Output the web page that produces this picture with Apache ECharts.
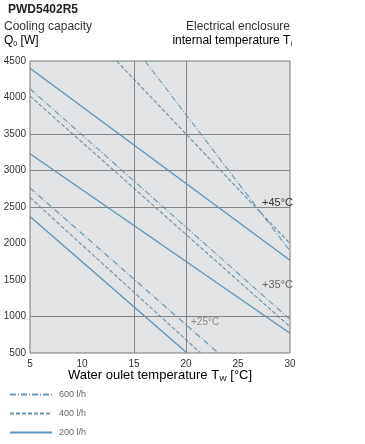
<!DOCTYPE html>
<html><head><meta charset="utf-8">
<script src="https://cdn.jsdelivr.net/npm/echarts@6/dist/echarts.min.js"></script>
<style>html,body{margin:0;padding:0;background:#fff}#c{width:365px;height:444px}</style>
</head><body><div id="c"></div>
<script>
const xTicks = [5, 10, 15, 20, 25, 30];
const yTicks = [500, 1000, 1500, 2000, 2500, 3000, 3500, 4000, 4500];
const gridY = [1000, 2500, 3000, 3500];
const gridX = [15, 20];
const flows = ['600 l/h', '400 l/h', '200 l/h'];
// [x, Q] points per curve
const t45_600 = [[16.06, 4500], [30, 1900]];
const t45_400 = [[13.33, 4500], [30, 2000]];
const t45_200 = [[5, 4400], [30, 1770]];
const t35_600 = [[5, 4120], [30, 960]];
const t35_400 = [[5, 4020], [30, 860]];
const t35_200 = [[5, 3230], [30, 770]];
const t25_600 = [[5, 2760], [23.1, 500]];
const t25_400 = [[5, 2630], [21.4, 500]];
const t25_200 = [[5, 2370], [20.1, 500]];

const chart = echarts.init(document.getElementById('c'));
const F = 'Liberation Sans, Arial, sans-serif';
const styles = {
  '600 l/h': {type: [6, 2, 1, 2], color: '#6b9ab8', width: 1.1},
  '400 l/h': {type: [4, 2], color: '#6b92ad', width: 1.1},
  '200 l/h': {type: 'solid', color: '#5e95b6', width: 1.3}
};
function mk(name, data) {
  return {type: 'line', name: name, data: data, symbol: 'none', silent: true,
    lineStyle: Object.assign({}, styles[name]), itemStyle: {color: styles[name].color}};
}
const series = [
  mk('600 l/h', t45_600), mk('400 l/h', t45_400), mk('200 l/h', t45_200),
  mk('600 l/h', t35_600), mk('400 l/h', t35_400), mk('200 l/h', t35_200),
  mk('600 l/h', t25_600), mk('400 l/h', t25_400), mk('200 l/h', t25_200),
  {type: 'line', data: [], silent: true, z: 1,
   markLine: {silent: true, symbol: 'none', label: {show: false},
     lineStyle: {color: '#858789', type: 'solid', width: 1},
     data: gridY.map(v => ({yAxis: v})).concat(gridX.map(v => ({xAxis: v})))}}
];
chart.setOption({
  animation: false,
  grid: {left: 30, right: 75, top: 61, bottom: 91, show: true, backgroundColor: '#e1e3e5', borderColor: '#77797b', borderWidth: 1},
  xAxis: {type: 'value', min: 5, max: 30, interval: 5,
    axisLine: {show: false}, axisTick: {show: false}, splitLine: {show: false},
    axisLabel: {color: '#333', fontSize: 10, fontFamily: F, margin: 6}},
  yAxis: {type: 'value', min: 500, max: 4500, interval: 500,
    axisLine: {show: false}, axisTick: {show: false}, splitLine: {show: false},
    axisLabel: {color: '#333', fontSize: 10, fontFamily: F, margin: 4, formatter: v => String(v)}},
  legend: {orient: 'vertical', left: 4, top: 385, height: 60, itemWidth: 42, itemHeight: 10, itemGap: 10,
    data: flows, selectedMode: false,
    itemStyle: {opacity: 0},
    textStyle: {color: '#666', fontSize: 9, fontFamily: F, padding: [0, 0, 0, 2]}},
  graphic: [
    {type: 'text', left: 8, top: 4, style: {text: 'PWD5402R5', font: 'bold 12px ' + F, fill: '#222'}},
    {type: 'text', left: 4, top: 21, style: {text: 'Cooling capacity', font: '12px ' + F, fill: '#333'}},
    {type: 'text', left: 4, top: 35, style: {text: '{a|Q}{s|0}{a| [W]}', rich: {a: {font: '12px ' + F, color: '#333'}, s: {font: '7px ' + F, color: '#333', padding: [6, 0, 0, 0]}}}},
    {type: 'text', right: 75, top: 21, style: {text: 'Electrical enclosure', font: '12px ' + F, fill: '#333', align: 'right'}},
    {type: 'text', right: 73, top: 35, style: {text: '{a|internal temperature T}{s|i}', rich: {a: {font: '12px ' + F, color: '#333'}, s: {font: '7px ' + F, color: '#333', padding: [6, 0, 0, 0]}}}},
    {type: 'text', x: 160, y: 368, style: {text: '{a|Water oulet temperature T}{s|W}{a| [°C]}', align: 'center', rich: {a: {font: '13px ' + F, color: '#333'}, s: {font: '8px ' + F, color: '#333', padding: [7, 0, 0, 0]}}}},
    {type: 'text', left: 262, top: 197, style: {text: '+45°C', font: '11px ' + F, fill: '#333'}},
    {type: 'text', left: 262, top: 279, style: {text: '+35°C', font: '11px ' + F, fill: '#666'}},
    {type: 'text', left: 191, top: 317, style: {text: '+25°C', font: '10px ' + F, fill: '#888'}}
  ],
  series: series
});
</script></body></html>
